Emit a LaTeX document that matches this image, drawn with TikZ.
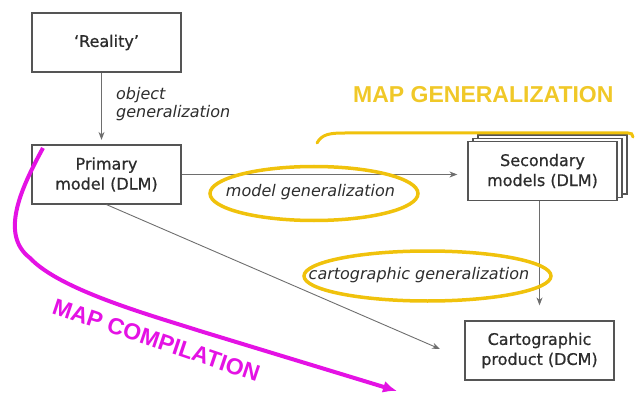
\documentclass[tikz,border=0pt]{standalone}
\usepackage{fontspec}
\setmainfont{DejaVu Sans}
\newfontfamily\boxfont[FakeBold=0.7,Ligatures=TeX]{DejaVu Sans}
\newfontfamily\headfont{Liberation Sans}
\usetikzlibrary{arrows.meta,shapes.geometric}
\definecolor{boxline}{RGB}{85,85,85}
\definecolor{boxtext}{RGB}{45,45,45}
\definecolor{conn}{RGB}{110,110,110}
\definecolor{gold}{RGB}{240,194,12}
\definecolor{goldtext}{RGB}{240,200,40}
\definecolor{magentaline}{RGB}{228,18,228}

\begin{document}
\begin{tikzpicture}[x=1pt,y=-1pt,
  stage/.style={draw=boxline, line width=1.2pt, fill=white, minimum width=149pt,
    minimum height=59pt, align=center, text=boxtext,
    font=\boxfont\fontsize{16}{20}\selectfont, inner sep=0pt},
  layer/.style={draw=boxline, line width=1.2pt, fill=white, minimum width=149pt,
    minimum height=59pt, inner sep=0pt},
  flow/.style={draw=conn, line width=0.9pt, -{Stealth[length=8pt,width=6pt]}},
  process/.style={text=boxtext, font=\fontsize{16}{18.5}\selectfont\itshape,
    align=left, inner sep=0pt},
  ring/.style={ellipse, draw=gold, line width=3.5pt, inner sep=0pt},
  headline/.style={font=\headfont\bfseries\fontsize{23}{23}\selectfont, inner sep=0pt}
]
\useasboundingbox (0,0) rectangle (635,393);

% model boxes
\node[stage] (reality) at (106.5,42.5) {‘Reality’};
\node[stage] (primary) at (106.5,174.5) {Primary\\model (DLM)};
\node[layer] (secBack) at (552.5,164.5) {};
\node[layer] (secMid) at (547.5,167.7) {};
\node[stage] (secondary) at (542.5,171) {Secondary\\models (DLM)};
\node[stage] (product) at (539.5,350.5) {Cartographic\\product (DCM)};

% connectors
\coordinate (dcmIn) at (440,349);
\draw[flow, shorten >=4.5pt] ([xshift=-5pt]reality.south) -- ([xshift=-5pt]primary.north);
\draw[flow, shorten >=10pt] (primary.east) -- (primary.east -| secondary.west);
\draw[flow, shorten >=15pt] ([xshift=-3pt]secondary.south) -- ([xshift=-3pt]secondary.south |- product.north);
\draw[flow] (primary.south) -- (dcmIn);

% generalization steps
\node[process, anchor=west] (objectLbl) at (116,104) {object\\generalization};
\node[ring, minimum width=208pt, minimum height=54pt] (modelRing) at (314,193.5) {};
\node[process] (modelLbl) at (310.5,192) {model generalization};
\node[ring, minimum width=247pt, minimum height=50pt] (cartoRing) at (427.5,276) {};
\node[process] (cartoLbl) at (419,275) {cartographic generalization};

% map generalization bracket
\draw[gold, line width=3pt, line cap=round]
  (317,143) .. controls (322,134) and (330,133) .. (345,133) -- (628,133)
  .. controls (631,133) and (633,134) .. (633,137);
\node[headline, text=goldtext, anchor=base west] (mapGen) at (353,103) {MAP GENERALIZATION};

% map compilation sweep
\draw[magentaline, line width=4pt, -{Latex[length=14pt,width=12pt]}]
  (43,148) .. controls (20,190) and (0,235) .. (30,258)
  .. controls (60,290) and (150,315) .. (200,331) -- (397,391);
\node[headline, text=magentaline, rotate=-18.6, anchor=base west] (mapComp) at (51,313) {MAP COMPILATION};
\end{tikzpicture}
\end{document}
